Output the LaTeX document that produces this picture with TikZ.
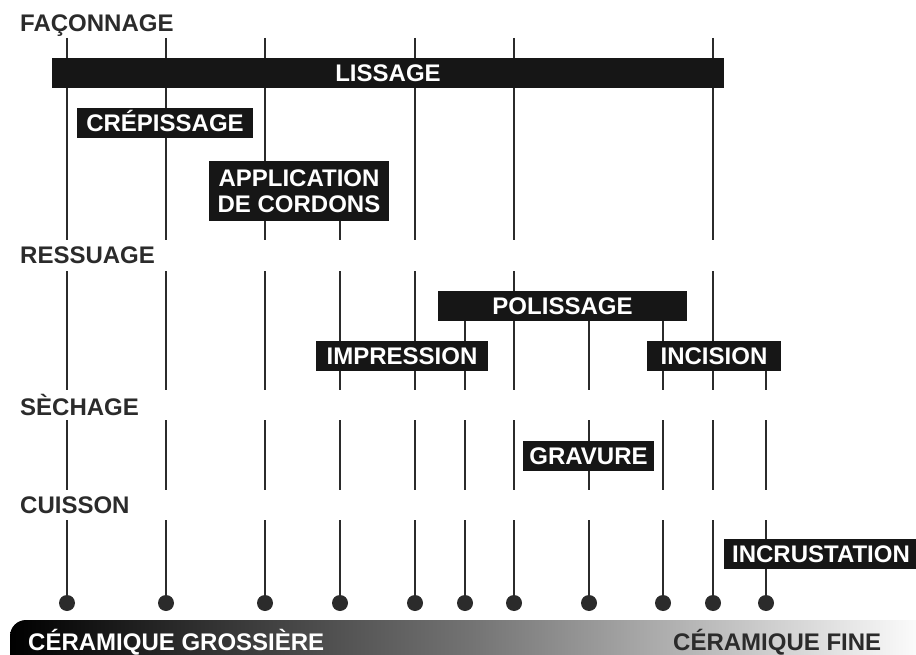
\documentclass[tikz,border=0pt]{standalone}
\usepackage{fontspec}
\setmainfont{Liberation Sans}
\usetikzlibrary{backgrounds}

\definecolor{ink}{HTML}{2B2B2B}
\definecolor{boxfill}{HTML}{161616}

\tikzset{
  label font/.style={font=\bfseries\fontsize{24}{26}\selectfont},
  stage/.style={label font, anchor=base west, text=ink, inner sep=0pt},
  tech/.style={label font, fill=boxfill, text=white, inner sep=0pt, minimum height=30pt},
  row/.style={tech, text height=17.2pt, text depth=0pt},
  dot/.style={circle, fill=ink, inner sep=0pt, minimum size=16pt},
  stem/.style={ink, line width=2.4pt},
}

\begin{document}
\begin{tikzpicture}[x=1pt,y=-1pt]
  \useasboundingbox (0,0) rectangle (916,655);

  % the scale from coarse to fine ware
  \shade[left color=black, right color=white, middle color=black!55, rounded corners=16pt]
    (10,670) -- (10,620) -- (930,620) -- (930,670) -- cycle;
  \node[stage, text=white] (coarse) at (28,650) {CÉRAMIQUE GROSSIÈRE};
  \node[stage] (fine) at (673,650) {CÉRAMIQUE FINE};

  % stages
  \node[stage] (faconnage) at (20,32) {FAÇONNAGE};
  \node[stage] (ressuage) at (20,264) {RESSUAGE};
  \node[stage] (sechage) at (20,415) {SÈCHAGE};
  \node[stage] (cuisson) at (20,513) {CUISSON};

  % techniques
  \node[row, minimum width=672pt] (lissage) at (388,73) {LISSAGE};
  \node[row, minimum width=176pt] (crepissage) at (165,123) {CRÉPISSAGE};
  \node[tech, minimum width=180pt, minimum height=60pt, align=center] (application) at (299,191) {APPLICATION\\DE CORDONS};
  \node[row, minimum width=249pt] (polissage) at (562.5,305.5) {POLISSAGE};
  \node[row, minimum width=172pt] (impression) at (402,355.5) {IMPRESSION};
  \node[row, minimum width=134pt] (incision) at (714,355.5) {INCISION};
  \node[row, minimum width=131pt] (gravure) at (588.5,455.5) {GRAVURE};
  \node[row, minimum width=194pt] (incrustation) at (821,554) {INCRUSTATION};

  % one stem per ware
  \coordinate (top) at (0,38);
  \foreach \x [count=\i] in {67,166,265,340,415,465,514,589,663,713,766}
    \node[dot] (d\i) at (\x,603) {};

  \begin{scope}[on background layer]
    \foreach \i in {1,2,3,5,7,10}
      \draw[stem] (d\i |- top) -- (d\i);
    \draw[stem] (d4 |- application.south) -- (d4);
    \foreach \i in {6,8,9}
      \draw[stem] (d\i |- polissage.south) -- (d\i);
    \draw[stem] (d11 |- incision.south) -- (d11);
    % breaks at the stage rows
    \fill[white] (0,240) rectangle (916,271);
    \fill[white] (0,390) rectangle (916,420);
    \fill[white] (0,490) rectangle (916,520);
  \end{scope}
\end{tikzpicture}
\end{document}
